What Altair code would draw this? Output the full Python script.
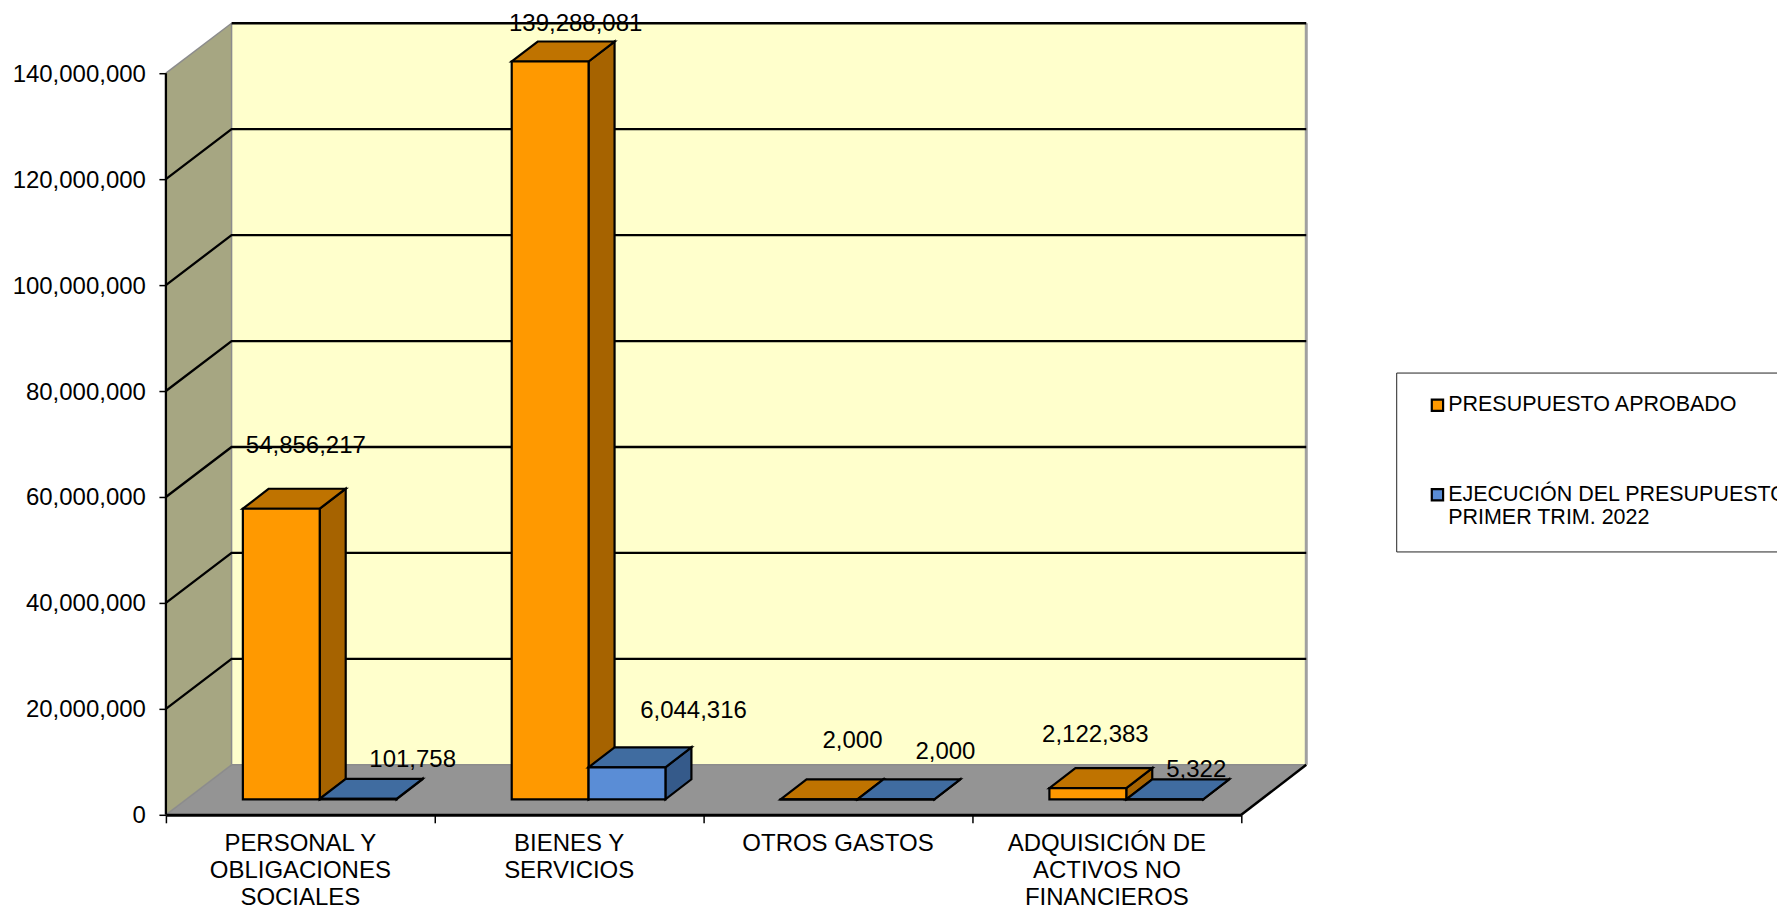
import altair as alt
import pandas as pd

CATEGORIES = ["PERSONAL Y|OBLIGACIONES|SOCIALES", "BIENES Y|SERVICIOS", "OTROS GASTOS", "ADQUISICIÓN DE|ACTIVOS NO|FINANCIEROS"]
SERIES = ["PRESUPUESTO APROBADO", "EJECUCIÓN DEL PRESUPUESTO|PRIMER TRIM. 2022"]
APROBADO = [54856217, 139288081, 2000, 2122383]
EJECUCION = [101758, 6044316, 2000, 5322]
Y_TICKS = [0, 20000000, 40000000, 60000000, 80000000, 100000000, 120000000, 140000000]

# hand-placed label offsets from each bar's front-top-left corner (pixels: right, up)
LABEL_SHIFT_A = [(63, 62.5), (64, 38), (72, 58), (46, 53)]
LABEL_SHIFT_B = [(93, 39), (105, 56), (88, 47), (70, 29)]

W, H = 1141, 792
PX_CAT = 269.0
PX_VAL = 5.3 / 1e6
XMAX = W / PX_CAT
YMAX = H / PX_VAL
DX = 65.7 / PX_CAT
DY = 50 / PX_VAL
BAR_START = 77.0 / PX_CAT
BAR_W = 76.9 / PX_CAT
BAR_BASE = 15.5 / PX_VAL
BAR_DX = 26 / PX_CAT
BAR_DY = 20 / PX_VAL
FONT = "Liberation Sans"
FS = 24

xs = alt.Scale(domain=[0, XMAX], nice=False, zero=False)
ys = alt.Scale(domain=[0, YMAX], nice=False, zero=False)
y_axis = alt.Axis(values=Y_TICKS, format=",d", domain=False, grid=False, title=None, tickSize=7,
                  tickWidth=1.5, tickColor="black", labelPadding=13.5, labelOffset=1, labelFont=FONT,
                  labelFontSize=FS, labelColor="black", labelOverlap=False)
X = lambda f="x": alt.X(f"{f}:Q", scale=xs, axis=None)
Y = lambda f="y": alt.Y(f"{f}:Q", scale=ys, axis=y_axis, stack=None)
X2 = alt.X2("x2:Q")
Y2 = alt.Y2("y2:Q")

# walls and floor
left_wall = pd.DataFrame({"x": [0, DX], "y": [Y_TICKS[-1], Y_TICKS[-1] + DY], "y2": [0, DY]})
back_wall = pd.DataFrame({"x": [DX], "x2": [XMAX], "y": [YMAX], "y2": [DY]})
floor = pd.DataFrame({"y": [0, DY], "x": [0, DX], "x2": [4, XMAX]})

l_left = alt.Chart(left_wall).mark_area(fill="#A6A682", clip=False).encode(x=X(), y=Y(), y2=Y2)
l_back = alt.Chart(back_wall).mark_rect(fill="#FFFFCC").encode(x=X(), x2=X2, y=Y(), y2=Y2)
l_floor = alt.Chart(floor).mark_area(fill="#949494", orient="horizontal").encode(y=Y(), x=X(), x2=X2)

# edges and gridlines
edges = []
def edge(name, color, width, pts):
    for i, (a, b) in enumerate(pts):
        edges.append({"id": name, "c": color, "w": width, "o": i, "x": a, "y": b})
top = Y_TICKS[-1]
edge("left-top", "#8C8C8C", 1.5, [(0, top), (DX, top + DY)])
edge("back-left", "#8C8C8C", 1.5, [(DX, DY), (DX, top + DY)])
edge("back-right", "#A0A0A0", 3, [(XMAX, DY), (XMAX, top + DY)])
edge("back-bottom", "#8C8C8C", 1.5, [(DX, DY), (XMAX, DY)])
edge("floor-left", "#8C8C8C", 1.5, [(0, 0), (DX, DY)])
edge("floor-right", "black", 2.5, [(4, 0), (XMAX, DY)])
edge("axis", "black", 2.3, [(0, 0), (0, top)])
edge("back-top", "black", 2.3, [(DX, top + DY), (XMAX, top + DY)])
for v in Y_TICKS[1:-1]:
    edge(f"grid{v}", "black", 2.3, [(0, v), (DX, v + DY), (XMAX, v + DY)])
l_edges = alt.Chart(pd.DataFrame(edges)).mark_line().encode(
    x=X(), y=Y(), detail="id:N", order="o:Q",
    stroke=alt.Stroke("c:N", scale=None), strokeWidth=alt.StrokeWidth("w:Q", scale=None))

def bar_layers(values, s, front, top_c, side):
    fr, sd, tp = [], [], []
    for k, v in enumerate(values):
        a = k + BAR_START + s * BAR_W
        b = a + BAR_W
        t = BAR_BASE + v
        fr.append({"x": a, "x2": b, "y": t, "y2": BAR_BASE, "series": SERIES[s]})
        sd += [{"id": k, "x": b, "y": t, "y2": BAR_BASE},
               {"id": k, "x": b + BAR_DX, "y": t + BAR_DY, "y2": BAR_BASE + BAR_DY}]
        tp += [{"id": k, "y": t, "x": a, "x2": b},
               {"id": k, "y": t + BAR_DY, "x": a + BAR_DX, "x2": b + BAR_DX}]
    style = dict(stroke="black", strokeWidth=2.2)
    l_side = alt.Chart(pd.DataFrame(sd)).mark_area(fill=side, **style).encode(x=X(), y=Y(), y2=Y2, detail="id:N")
    l_top = alt.Chart(pd.DataFrame(tp)).mark_area(fill=top_c, orient="horizontal", **style).encode(y=Y(), x=X(), x2=X2, detail="id:N")
    col = alt.Color("series:N", scale=alt.Scale(domain=SERIES, range=["#FF9900", "#5A8DD6"]), sort=SERIES,
                    legend=alt.Legend(
                        title=None, orient="none", legendX=1231, legendY=349.5, padding=22, strokeColor="#222222",
                        fillColor="white", symbolType="square", symbolSize=128, symbolStrokeColor="black",
                        symbolStrokeWidth=2.2, symbolOffset=8.5, labelFont=FONT, labelFontSize=21.5, labelColor="black",
                        labelLimit=1000, labelOffset=0, rowPadding=66.5,
                        labelExpr="split(datum.label, '|')"))
    l_front = alt.Chart(pd.DataFrame(fr)).mark_rect(**style).encode(x=X(), x2=X2, y=Y(), y2=Y2, color=col)
    return [l_side, l_top, l_front]

orange = bar_layers(APROBADO, 0, "#FF9900", "#BF7300", "#A66300")
blue = bar_layers(EJECUCION, 1, "#5A8DD6", "#406CA0", "#355A8A")

# value labels
labels = []
for s, (vals, shifts) in enumerate([(APROBADO, LABEL_SHIFT_A), (EJECUCION, LABEL_SHIFT_B)]):
    for k, (v, (sx, sy)) in enumerate(zip(vals, shifts)):
        labels.append({"x": k + BAR_START + s * BAR_W + sx / PX_CAT,
                       "y": BAR_BASE + v + sy / PX_VAL, "t": f"{v:,}"})
l_labels = alt.Chart(pd.DataFrame(labels)).mark_text(font=FONT, fontSize=FS, color="black").encode(
    x=X(), y=Y(), text="t:N")

# category axis: band scale so ticks sit between the categories
cat_df = pd.DataFrame({"cat": CATEGORIES})
l_cat = alt.Chart(cat_df).mark_rule(opacity=0).encode(
    x=alt.X("cat:N", sort=CATEGORIES,
            scale=alt.Scale(domain=CATEGORIES, range=[0, 4 * PX_CAT], paddingInner=0, paddingOuter=0),
            axis=alt.Axis(title=None, tickBand="extent", labelAngle=0, labelFont=FONT, labelFontSize=FS,
                          labelColor="black", labelLimit=0, labelOverlap=False, labelOffset=-0.5,
                          labelExpr="split(datum.label, '|')", labelLineHeight=27.3, labelPadding=8.5,
                          tickSize=8, tickWidth=1.5, tickColor="black", domainColor="black", domainWidth=3,
                          zindex=1)))

chart = alt.layer(l_cat, l_back, l_left, l_floor, l_edges, *orange, *blue, l_labels).resolve_scale(
    x="independent"
).properties(
    width=W, height=H,
    padding={"left": 158, "top": 15, "right": 471, "bottom": 94},
    autosize=alt.AutoSizeParams(type="none"),
    background="white",
).configure_view(stroke=None)

chart.save("out.html", embed_options={"renderer": "svg", "actions": False})
